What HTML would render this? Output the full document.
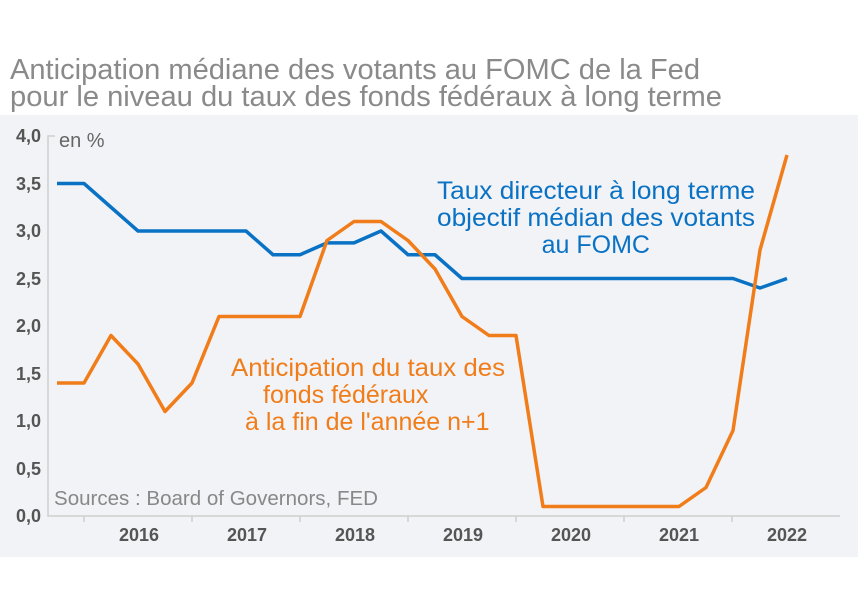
<!DOCTYPE html><html><head><meta charset="utf-8"><style>body{margin:0;background:#fff}svg{display:block;font-family:"Liberation Sans",sans-serif}</style></head><body>
<svg width="858" height="600" viewBox="0 0 858 600">
<rect x="0" y="115" width="858" height="442" fill="#f2f3f7"/>
<text x="10" y="79" font-size="28.5" fill="#8a8a8a" textLength="690" lengthAdjust="spacingAndGlyphs">Anticipation médiane des votants au FOMC de la Fed</text>
<text x="10" y="106" font-size="28.5" fill="#8a8a8a" textLength="712" lengthAdjust="spacingAndGlyphs">pour le niveau du taux des fonds fédéraux à long terme</text>
<g stroke="#cfcfcf" stroke-width="1.5" fill="none"><path d="M55,136 H48 V516 H840"/>
<path d="M84,516v6M192,516v6M300,516v6M408,516v6M516,516v6M624,516v6M732,516v6"/></g>
<g font-size="18" font-weight="bold" fill="#555" text-anchor="end">
<text x="41" y="142">4,0</text><text x="41" y="190">3,5</text><text x="41" y="237">3,0</text><text x="41" y="285">2,5</text><text x="41" y="332">2,0</text><text x="41" y="380">1,5</text><text x="41" y="427">1,0</text><text x="41" y="475">0,5</text><text x="41" y="522">0,0</text></g>
<g font-size="18" font-weight="bold" fill="#555" text-anchor="middle">
<text x="139" y="541">2016</text><text x="247" y="541">2017</text><text x="355" y="541">2018</text><text x="463" y="541">2019</text><text x="571" y="541">2020</text><text x="679" y="541">2021</text><text x="787" y="541">2022</text></g>
<text x="59" y="147" font-size="20" fill="#666">en %</text>
<text x="54" y="505" font-size="20" fill="#888" textLength="324" lengthAdjust="spacingAndGlyphs">Sources : Board of Governors, FED</text>
<polyline fill="none" stroke="#0a72c4" stroke-width="3.5" stroke-linejoin="round" points="57,183.5 84,183.5 111,207.25 138,231 246,231 273,254.75 300,254.75 327,242.9 354,242.9 381,231 408,254.75 435,254.75 462,278.5 733,278.5 760,288 787,278.5"/>
<polyline fill="none" stroke="#f07d1a" stroke-width="3.5" stroke-linejoin="round" points="57,383 84,383 111,335.5 138,364 165,411.5 192,383 219,316.5 300,316.5 327,240.5 354,221.5 381,221.5 408,240.5 435,269 462,316.5 489,335.5 516,335.5 543,506.5 679,506.5 706,487.5 733,430.5 760,250 787,155"/>
<g font-size="25" fill="#0a72c4" text-anchor="end"><text x="755" y="199" textLength="318" lengthAdjust="spacingAndGlyphs">Taux directeur à long terme</text><text x="755" y="226" textLength="318" lengthAdjust="spacingAndGlyphs">objectif médian des votants</text><text x="650" y="253">au FOMC</text></g>
<g font-size="25" fill="#f07d1a"><text x="231" y="376" textLength="274" lengthAdjust="spacingAndGlyphs">Anticipation du taux des</text><text x="263" y="403">fonds fédéraux</text><text x="245" y="430">à la fin de l'année n+1</text></g>
</svg></body></html>
